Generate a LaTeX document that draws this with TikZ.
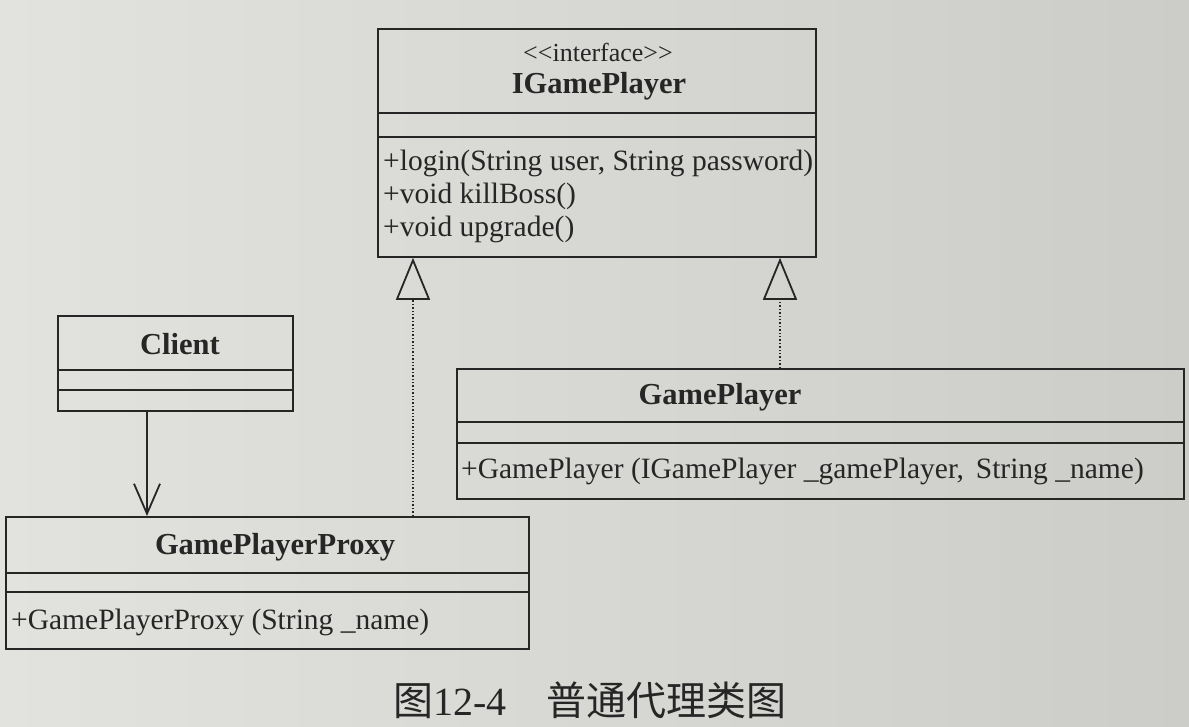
\documentclass[tikz,border=0pt]{standalone}
\usepackage{fontspec}
\setmainfont{Liberation Serif}
\newfontfamily\cjk{Noto Sans CJK SC}
\usetikzlibrary{arrows.meta,calc}
\definecolor{paperL}{RGB}{226,226,223}
\definecolor{paperR}{RGB}{204,204,201}
\definecolor{ink}{RGB}{38,38,38}
\begin{document}
\begin{tikzpicture}[x=1pt,y=-1pt,
  frame/.style={draw=ink, line width=1.8pt},
  classbox/.style={frame, rectangle, anchor=north west, inner sep=0pt},
  ctitle/.style={font=\fontsize{30.5}{34}\selectfont\bfseries, text=ink, inner sep=0pt},
  member/.style={font=\fontsize{29.5}{33}\selectfont, text=ink, anchor=west, inner sep=0pt},
  realize/.style={draw=ink, line width=1.4pt, dotted,
    -{Triangle[open, width=34pt, length=42pt, line width=1.8pt]}},
  assoc/.style={draw=ink, line width=1.8pt,
    -{Straight Barb[length=30pt, width=26pt, line width=1.8pt]}}
]
\useasboundingbox (0,0) rectangle (1189,726);
\shade[left color=paperL, right color=paperR] (0,0) rectangle (1189,726);

% interface IGamePlayer
\node[classbox, minimum width=438pt, minimum height=228pt] (igp) at (377,28) {};
\draw[frame] ($(igp.north west)+(0,85)$) -- ($(igp.north east)+(0,85)$);
\draw[frame] ($(igp.north west)+(0,109)$) -- ($(igp.north east)+(0,109)$);
\node[member, anchor=center, font=\fontsize{26}{30}\selectfont] (igpst) at (598,52) {<\kern0pt<interface>\kern0pt>};
\node[ctitle] (igpt) at (599,86) {IGamePlayer};
\node[member] (igpm1) at (383,163) {+login(String user, String password)};
\node[member] (igpm2) at (383,196) {+void killBoss()};
\node[member] (igpm3) at (383,229) {+void upgrade()};

% Client
\node[classbox, minimum width=235pt, minimum height=95pt] (client) at (57,315) {};
\draw[frame] ($(client.north west)+(0,55)$) -- ($(client.north east)+(0,55)$);
\draw[frame] ($(client.north west)+(0,75)$) -- ($(client.north east)+(0,75)$);
\node[ctitle] (clientt) at (180,344) {Client};

% GamePlayer
\node[classbox, minimum width=727pt, minimum height=130pt] (gp) at (456,368) {};
\draw[frame] ($(gp.north west)+(0,54)$) -- ($(gp.north east)+(0,54)$);
\draw[frame] ($(gp.north west)+(0,75)$) -- ($(gp.north east)+(0,75)$);
\node[ctitle] (gpt) at (720,397) {GamePlayer};
\node[member] (gpm1) at (461,471) {+GamePlayer (IGamePlayer \_gamePlayer,\hspace{0.4em}String \_name)};

% GamePlayerProxy
\node[classbox, minimum width=523pt, minimum height=132pt] (gpp) at (5,516) {};
\draw[frame] ($(gpp.north west)+(0,57)$) -- ($(gpp.north east)+(0,57)$);
\draw[frame] ($(gpp.north west)+(0,76)$) -- ($(gpp.north east)+(0,76)$);
\node[ctitle] (gppt) at (275,547) {GamePlayerProxy};
\node[member] (gppm1) at (11,622) {+GamePlayerProxy (String \_name)};

% connectors
\coordinate (lx) at (413,0);
\coordinate (rx) at (780,0);
\coordinate (cx) at (147,0);
\draw[realize] (gpp.north -| lx) -- (igp.south -| lx);
\draw[realize] (gp.north -| rx) -- (igp.south -| rx);
\draw[assoc] (client.south -| cx) -- (gpp.north -| cx);

% caption
\node[text=ink, inner sep=0pt] (cap) at (590,700)
  {\fontsize{40}{44}\selectfont{\cjk 图}12-4\hspace{1em}{\cjk 普通代理类图}};
\end{tikzpicture}
\end{document}
